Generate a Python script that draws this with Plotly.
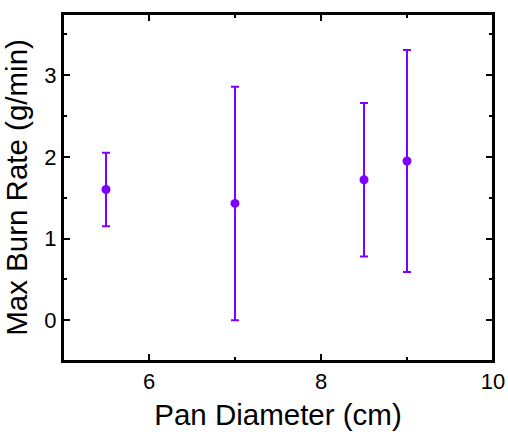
import plotly.graph_objects as go

pan_diameter = [5.5, 7.0, 8.5, 9.0]
max_burn_rate = [1.60, 1.43, 1.72, 1.95]
burn_rate_err = [0.45, 1.43, 0.94, 1.36]

x_ticks = [6, 8, 10]
y_ticks = [0, 1, 2, 3]

color = "#8000FF"
FONT = "Liberation Sans, Arial, sans-serif"

fig = go.Figure()
fig.add_trace(go.Scatter(
    x=pan_diameter, y=max_burn_rate, mode="markers",
    marker=dict(color=color, size=9),
    error_y=dict(type="data", array=burn_rate_err, visible=True,
                 color=color, thickness=2, width=4),
    showlegend=False,
))

axis_common = dict(
    showline=True, linecolor="#000000", linewidth=2, mirror="allticks",
    ticks="inside", ticklen=7, tickwidth=2, tickcolor="#000000",
    showgrid=False, zeroline=False,
    tickfont=dict(family=FONT, size=22, color="black"),
)

fig.update_xaxes(
    range=[5, 10], tickvals=x_ticks, ticktext=[str(v) for v in x_ticks],
    title=dict(text="Pan Diameter (cm)", standoff=11,
               font=dict(family=FONT, size=29.5, color="black")),
    minor=dict(ticks="inside", ticklen=4, tickwidth=2, tickcolor="#000000", dtick=1, tick0=5),
    **axis_common,
)
fig.update_yaxes(
    range=[-0.5, 3.75], tickvals=y_ticks, ticktext=[str(v) for v in y_ticks],
    title=dict(text="Max Burn Rate (g/min)", standoff=8,
               font=dict(family=FONT, size=29.5, color="black")),
    minor=dict(ticks="inside", ticklen=4, tickwidth=2, tickcolor="#000000", dtick=0.5, tick0=0),
    **axis_common,
)

fig.add_shape(type="rect", xref="paper", yref="paper", x0=0, y0=0, x1=1, y1=1,
              line=dict(color="#000000", width=2), fillcolor="rgba(0,0,0,0)", layer="above")

fig.update_layout(
    width=508, height=432,
    margin=dict(l=63, r=15, t=14, b=71, autoexpand=False),
    plot_bgcolor="white", paper_bgcolor="white",
)

fig.write_html("out.html", config={"displayModeBar": False},
               post_script="document.body.style.margin='0';document.body.style.padding='0';")
